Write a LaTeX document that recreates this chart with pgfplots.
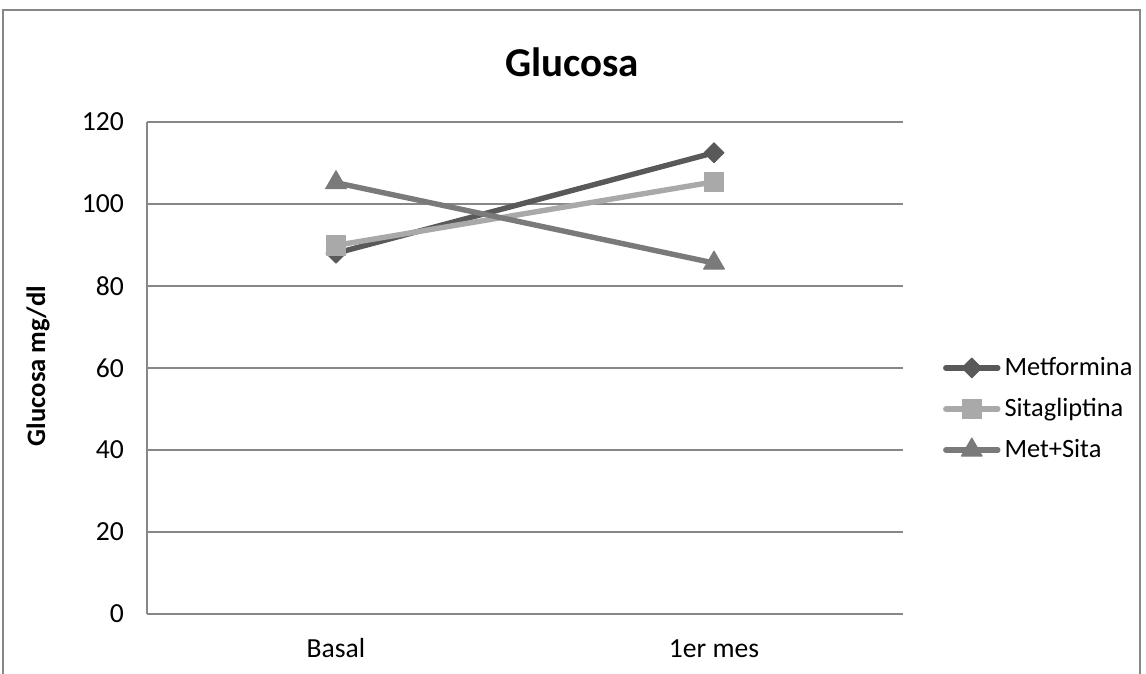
\documentclass[border=0pt]{standalone}
\usepackage{pgfplots}
\pgfplotsset{compat=1.18}
\usepackage{fontspec}
\setmainfont{Carlito}

\definecolor{metc}{HTML}{595959}
\definecolor{sitc}{HTML}{A9A9A9}
\definecolor{bothc}{HTML}{7A7A7A}
\definecolor{gridc}{HTML}{878787}

\begin{document}
\begin{tikzpicture}[x=1pt,y=1pt]
% chart area frame
\draw[gridc, line width=0.9pt] (1.5,-5) -- (1.5,332) -- (570,332) -- (570,-5);

\node[anchor=base, font=\fontsize{20.5}{23}\selectfont\bfseries] at (286,298.5) {Glucosa};
\node[rotate=90, font=\fontsize{13.3}{15}\selectfont\bfseries] at (19,154) {Glucosa mg/dl};

\begin{axis}[
  at={(73.5pt,30pt)}, anchor=south west,
  scale only axis, width=378pt, height=246pt,
  xmin=-0.5, xmax=1.5, ymin=0, ymax=120,
  xtick={0,1}, xticklabels={Basal,1er mes},
  ytick={0,20,...,120},
  axis lines*=left,
  axis line style={gridc, line width=0.9pt},
  ymajorgrids, grid style={gridc, line width=0.9pt},
  major tick length=0pt,
  tick label style={font=\fontsize{13.8}{16}\selectfont},
  /pgf/number format/assume math mode=true,
  yticklabel style={xshift=-8pt},
  xticklabel style={anchor=base, yshift=-22pt},
  every axis plot/.append style={line width=2.7pt, line cap=round, line join=round},
  legend cell align=left,
  legend style={draw=none, fill=none, at={(1.0525,0.4167)}, anchor=west,
    font=\fontsize{13.2}{15.5}\selectfont, row sep=5.9pt, inner xsep=0pt,
    /tikz/every even column/.append style={column sep=0pt}},
  legend image code/.code={%
    \draw[mark repeat=2, mark phase=2] plot coordinates {(0pt,0pt) (13pt,0pt) (26pt,0pt)};},
  clip=false,
]
% diamonds drawn as squares turned by 45 degrees
\addplot[metc, mark=square*, mark size=3.5pt, mark options={solid, rotate=45, fill=metc, line width=0.5pt}]
  coordinates {(0,88.0) (1,112.5)};
\addlegendentry{Metformina}
\addplot[sitc, mark=square*, mark size=4.9pt, mark options={solid, fill=sitc, line width=0.5pt}]
  coordinates {(0,89.9) (1,105.4)};
\addlegendentry{Sitagliptina}
\addplot[bothc, mark=triangle*, mark size=6pt, mark options={solid, fill=bothc, line width=0.5pt}]
  coordinates {(0,105.2) (1,85.6)};
\addlegendentry{Met+Sita}
\end{axis}
\pgfresetboundingbox
\useasboundingbox (0,0) rectangle (573,337);
\end{tikzpicture}
\end{document}
